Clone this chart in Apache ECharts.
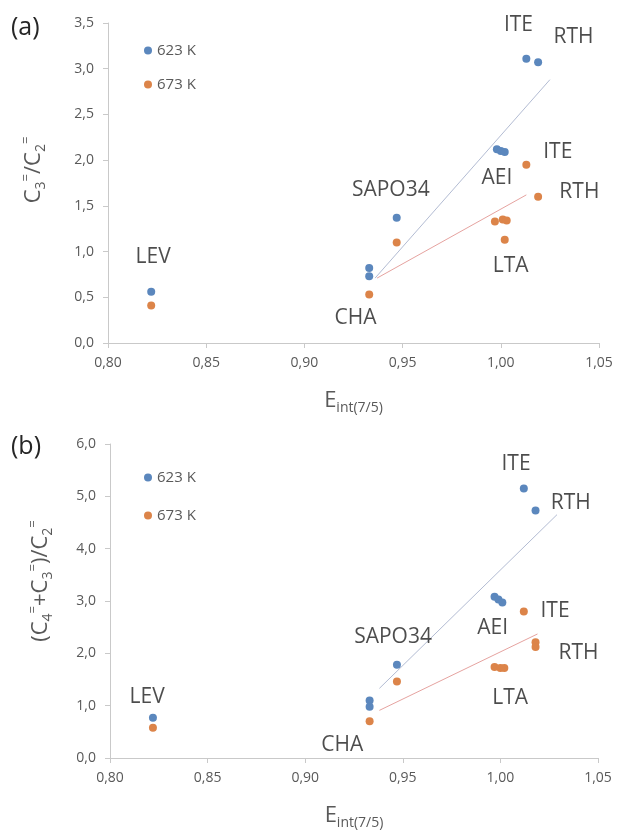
<!DOCTYPE html>
<html>
<head>
<meta charset="utf-8">
<script src="https://cdn.jsdelivr.net/npm/echarts@6/dist/echarts.min.js"></script>
<style>
  html, body { margin: 0; padding: 0; background: #fff; }
  #main { width: 620px; height: 834px; }
</style>
</head>
<body>
<div id="main"></div>
<script>
// panel (a): C3=/C2= vs Eint(7/5)
var k623A = [[0.822, 0.56], [0.933, 0.82], [0.933, 0.73], [0.947, 1.37], [0.998, 2.12], [1.000, 2.10], [1.002, 2.09], [1.013, 3.11], [1.019, 3.07]];
var k673A = [[0.822, 0.41], [0.933, 0.53], [0.947, 1.10], [0.997, 1.33], [1.001, 1.35], [1.003, 1.34], [1.002, 1.13], [1.013, 1.95], [1.019, 1.60]];
var trend623A = [[0.936, 0.71], [1.025, 2.88]];
var trend673A = [[0.937, 0.71], [1.013, 1.62]];
var labelsA = [['LEV', 0.823, 0.945], ['CHA', 0.926, 0.27], ['SAPO34', 0.944, 1.67], ['AEI', 0.998, 1.80], ['LTA', 1.005, 0.84],
               ['ITE', 1.009, 3.475], ['RTH', 1.037, 3.35], ['ITE', 1.029, 2.09], ['RTH', 1.040, 1.65]];

// panel (b): (C4= + C3=)/C2= vs Eint(7/5)
var k623B = [[0.822, 0.77], [0.933, 1.10], [0.933, 0.98], [0.947, 1.78], [0.997, 3.08], [0.999, 3.03], [1.001, 2.97], [1.012, 5.15], [1.018, 4.73]];
var k673B = [[0.822, 0.58], [0.933, 0.70], [0.947, 1.46], [0.997, 1.74], [1.000, 1.72], [1.002, 1.72], [1.012, 2.80], [1.018, 2.21], [1.018, 2.12]];
var trend623B = [[0.938, 1.33], [1.029, 4.65]];
var trend673B = [[0.938, 0.91], [1.019, 2.37]];
var labelsB = [['LEV', 0.819, 1.17], ['CHA', 0.919, 0.24], ['SAPO34', 0.945, 2.32], ['AEI', 0.996, 2.48], ['LTA', 1.005, 1.14],
               ['ITE', 1.008, 5.61], ['RTH', 1.036, 4.87], ['ITE', 1.028, 2.80], ['RTH', 1.040, 2.00]];

var seriesNames = ['623 K', '673 K'];

var FONT = 'Open Sans';
var BLUE = '#5b87bd', ORANGE = '#dc8449';
var GREY = '#595959';

function fmt(d) {
  return function (v) { return v.toFixed(d).replace('.', ','); };
}

var richTitle = {
  b:   { fontFamily: FONT, fontSize: 22, color: GREY, lineHeight: 28 },
  sub: { fontFamily: FONT, fontSize: 14, color: GREY, verticalAlign: 'bottom' },
  sup: { fontFamily: FONT, fontSize: 13, color: GREY, verticalAlign: 'top' }
};

function xAxisOf(idx) {
  return {
    gridIndex: idx, type: 'value', min: 0.8, max: 1.05, interval: 0.05,
    axisLine: { lineStyle: { color: '#c9c9c9' } },
    axisTick: { show: true, length: 5, lineStyle: { color: '#c9c9c9' } },
    splitLine: { show: false },
    axisLabel: { formatter: fmt(2), color: GREY, fontFamily: FONT, fontSize: 14, margin: 13 },
    name: '{b|E}{sub|int(7/5)}', nameLocation: 'middle', nameGap: 44,
    nameTextStyle: { rich: richTitle }
  };
}

function yAxisOf(idx, max, interval, name, gap, shift) {
  return {
    gridIndex: idx, type: 'value', min: 0, max: max, interval: interval,
    axisLine: { show: true, lineStyle: { color: '#c9c9c9' } },
    axisTick: { show: true, length: 5, lineStyle: { color: '#c9c9c9' } },
    splitLine: { show: false },
    axisLabel: { formatter: fmt(1), color: GREY, fontFamily: FONT, fontSize: 14, margin: 14 },
    name: name, nameLocation: 'middle', nameRotate: 90, nameGap: gap,
    nameTextStyle: { rich: richTitle, padding: [0, 0, 0, shift] }
  };
}

function pointSeries(name, data, idx, color) {
  return {
    name: name, type: 'scatter', xAxisIndex: idx, yAxisIndex: idx,
    data: data, symbolSize: 8, itemStyle: { color: color, opacity: 1 }, z: 3
  };
}

function trendSeries(data, idx, color) {
  return {
    type: 'line', xAxisIndex: idx, yAxisIndex: idx, data: data,
    symbol: 'none', silent: true, z: 2,
    lineStyle: { color: color, width: 1 }
  };
}

function labelSeries(list, idx) {
  return {
    type: 'scatter', xAxisIndex: idx, yAxisIndex: idx, symbolSize: 0, silent: true,
    data: list.map(function (l) { return { value: [l[1], l[2]], name: l[0] }; }),
    label: { show: true, position: 'inside', formatter: '{b}', color: '#1f1f1f', fontFamily: FONT, fontSize: 21 }
  };
}

function legendOf(top, gap) {
  return {
    data: seriesNames, orient: 'vertical', left: 144, top: top, itemGap: gap, padding: 0,
    icon: 'circle', itemWidth: 8, itemHeight: 8, itemStyle: { borderWidth: 0 },
    textStyle: { color: GREY, fontFamily: FONT, fontSize: 15 },
    selectedMode: false
  };
}

var chart = echarts.init(document.getElementById('main'));
chart.setOption({
  backgroundColor: '#fff',
  animation: false,
  grid: [
    { left: 108, width: 491, top: 23, height: 320 },
    { left: 110, width: 488, top: 444, height: 314 }
  ],
  xAxis: [xAxisOf(0), xAxisOf(1)],
  yAxis: [
    yAxisOf(0, 3.5, 0.5, '{b|C}{sub|3}{sup|=}{b|/C}{sub|2}{sup|=}', 60, 26),
    yAxisOf(1, 6, 1, '{b|(C}{sub|4}{sup|=}{b|+C}{sub|3}{sup|=}{b|)/C}{sub|2}{sup|=}', 55, 40)
  ],
  legend: [legendOf(43, 19), legendOf(470, 23)],
  graphic: [
    { type: 'text', left: 11, top: 15, style: { text: '(a)', fontFamily: FONT, fontSize: 25, fill: '#262626' } },
    { type: 'text', left: 11, top: 434, style: { text: '(b)', fontFamily: FONT, fontSize: 25, fill: '#262626' } }
  ],
  series: [
    trendSeries(trend623A, 0, '#b3bcd3'),
    trendSeries(trend673A, 0, '#e6a3a0'),
    pointSeries(seriesNames[0], k623A, 0, BLUE),
    pointSeries(seriesNames[1], k673A, 0, ORANGE),
    labelSeries(labelsA, 0),
    trendSeries(trend623B, 1, '#b3bcd3'),
    trendSeries(trend673B, 1, '#e6a3a0'),
    pointSeries(seriesNames[0], k623B, 1, BLUE),
    pointSeries(seriesNames[1], k673B, 1, ORANGE),
    labelSeries(labelsB, 1)
  ]
});
</script>
</body>
</html>
